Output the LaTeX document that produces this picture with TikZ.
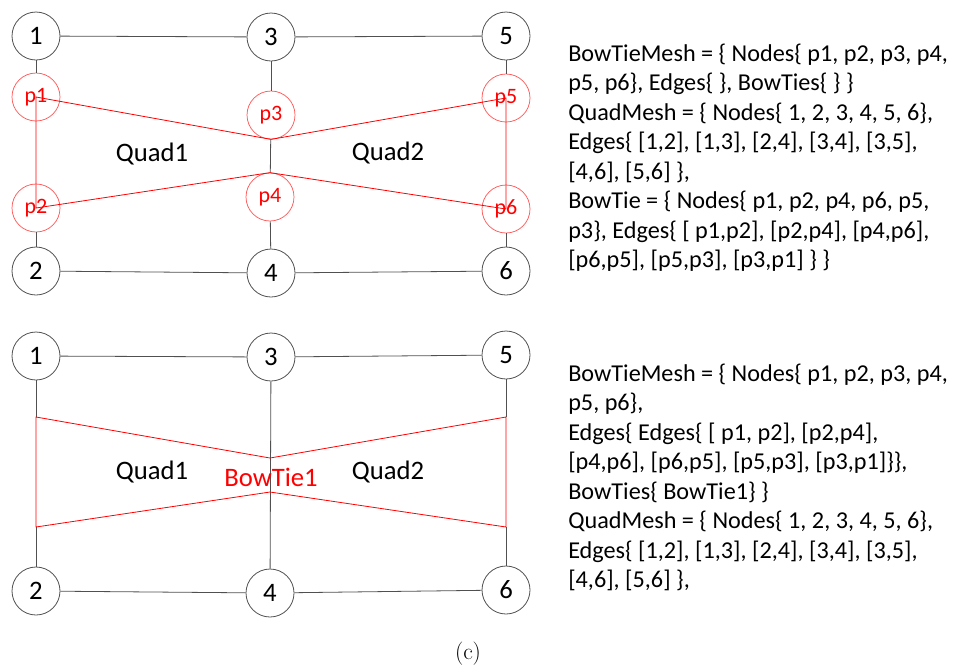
\documentclass[tikz,border=0pt]{standalone}
\usepackage{fontspec}
\newfontfamily\calib{Carlito}
\definecolor{meshgray}{RGB}{80,80,80}
\definecolor{ringred}{RGB}{255,90,90}
\tikzset{
  qnode/.style={circle, draw=meshgray, line width=0.6pt, fill=white,
    minimum size=36pt, inner sep=0pt, text=black,
    font=\calib\fontsize{20}{24}\selectfont},
  pnode/.style={circle, draw=ringred, line width=0.55pt, fill=white,
    minimum size=36pt, inner sep=0pt, text=red,
    font=\calib\fontsize{16.5}{20}\selectfont},
  meshline/.style={draw=meshgray, line width=0.6pt},
  bowline/.style={draw=red, line width=0.6pt, line join=miter},
  quadlabel/.style={font=\calib\fontsize{20}{24}\selectfont, text=black},
  desc/.style={anchor=north west, inner sep=0pt, align=left,
    font=\calib\fontsize{18.15}{22.1}\selectfont}
}
\begin{document}
\begin{tikzpicture}[x=0.75pt, y=-0.75pt]
\useasboundingbox (0,0) rectangle (955,669);

% ---------- upper mesh: quad nodes with separate bow-tie nodes ----------
\node[qnode] (a1) at (36,36)  {1};
\node[qnode] (a3) at (271,37) {3};
\node[qnode] (a5) at (506,36) {5};
\node[qnode] (a2) at (36,271) {2};
\node[qnode] (a4) at (271,273) {4};
\node[qnode] (a6) at (506,271) {6};

\node[pnode] (p1) at (36,97)   {p1};
\node[pnode] (p2) at (36,208)  {p2};
\node[pnode] (p3) at (271,115) {p3};
\node[pnode] (p4) at (270,197) {p4};
\node[pnode] (p5) at (506,98)  {p5};
\node[pnode] (p6) at (506,209) {p6};

% quad edges (vertical ones pass through the bow-tie nodes)
\draw[meshline] (a1) -- (a3);
\draw[meshline] (a3) -- (a5);
\draw[meshline] (a2) -- (a4);
\draw[meshline] (a4) -- (a6);
\draw[meshline] (a1) -- (p1);
\draw[meshline] (p2) -- (a2);
\draw[meshline] (a3) -- (p3);
\draw[meshline] (p3) -- (p4);
\draw[meshline] (p4) -- (a4);
\draw[meshline] (a5) -- (p5);
\draw[meshline] (p6) -- (a6);

\draw[bowline] (p1.center) -- (p3.south) -- (p5.center) -- (p6.center)
  -- (p4.north) -- (p2.center) -- cycle;

\node[quadlabel] (q1a) at (152,154) {Quad1};
\node[quadlabel] (q2a) at (388,153) {Quad2};

% ---------- lower mesh: quads with the bow-tie as one element ----------
\node[qnode] (b1) at (36,356)  {1};
\node[qnode] (b3) at (271,357) {3};
\node[qnode] (b5) at (506,355) {5};
\node[qnode] (b2) at (36,591)  {2};
\node[qnode] (b4) at (270,593) {4};
\node[qnode] (b6) at (506,590) {6};

\coordinate (c1) at (36,417);
\coordinate (c3) at (270,458);
\coordinate (c5) at (506,417);
\coordinate (c6) at (506,527);
\coordinate (c4) at (270,492);
\coordinate (c2) at (36,527);

\draw[meshline] (b1) -- (b3);
\draw[meshline] (b3) -- (b5);
\draw[meshline] (b2) -- (b4);
\draw[meshline] (b4) -- (b6);
\draw[meshline] (b1) -- (c1);
\draw[meshline] (c2) -- (b2);
\draw[meshline] (b3) -- (b4);
\draw[meshline] (b5) -- (c5);
\draw[meshline] (c6) -- (b6);

\draw[bowline] (c1) -- (c3) -- (c5) -- (c6) -- (c4) -- (c2) -- cycle;

\node[quadlabel] (q1b) at (152,472) {Quad1};
\node[quadlabel] (q2b) at (388,472) {Quad2};
\node[quadlabel, text=red] (bt1) at (271,477) {BowTie1};

% ---------- data structure descriptions ----------
\node[desc] (d1) at (568,41) {\rule{0pt}{15pt}BowTieMesh = \{ Nodes\{ p1, p2, p3, p4,\\%
p5, p6\}, Edges\{ \}, BowTies\{ \} \}\\%
QuadMesh = \{ Nodes\{ 1, 2, 3, 4, 5, 6\},\\%
Edges\{ [1,2], [1,3], [2,4], [3,4], [3,5],\\%
{}[4,6], [5,6] \},\\%
BowTie = \{ Nodes\{ p1, p2, p4, p6, p5,\\%
p3\}, Edges\{ [ p1,p2], [p2,p4], [p4,p6],\\%
{}[p6,p5], [p5,p3], [p3,p1] \} \}};

\node[desc] (d2) at (568,361) {\rule{0pt}{15pt}BowTieMesh = \{ Nodes\{ p1, p2, p3, p4,\\%
p5, p6\},\\%
Edges\{ Edges\{ [ p1, p2], [p2,p4],\\%
{}[p4,p6], [p6,p5], [p5,p3], [p3,p1]\}\},\\%
BowTies\{ BowTie1\} \}\\%
QuadMesh = \{ Nodes\{ 1, 2, 3, 4, 5, 6\},\\%
Edges\{ [1,2], [1,3], [2,4], [3,4], [3,5],\\%
{}[4,6], [5,6] \},};

\node[anchor=base, font=\fontsize{17.5}{21}\selectfont] (cap) at (468,659) {(c)};
\end{tikzpicture}
\end{document}
